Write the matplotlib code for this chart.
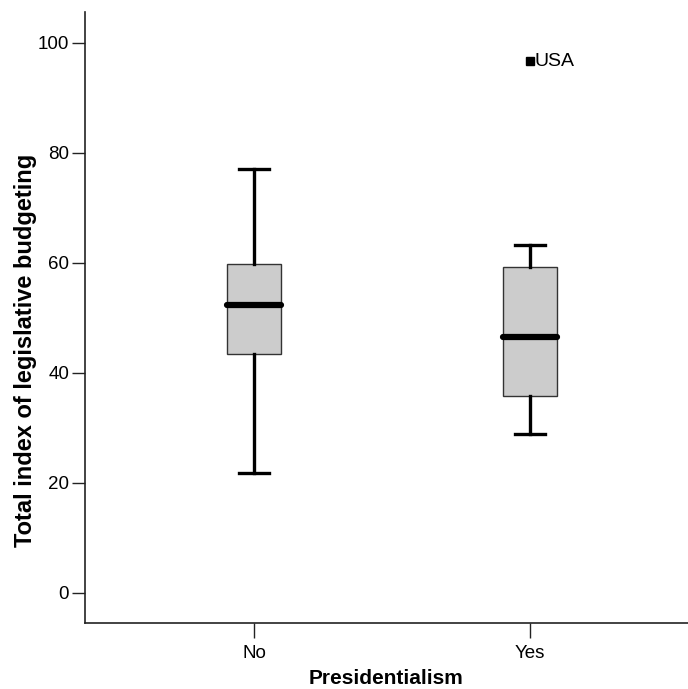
import matplotlib
matplotlib.use("Agg")
import matplotlib.pyplot as plt

plt.rcParams['font.family'] = ['Liberation Sans', 'DejaVu Sans']

categories = ["No", "Yes"]
whisker_low = [21.8, 28.8]
q1 = [43.5, 35.7]
median = [52.4, 46.5]
q3 = [59.8, 59.3]
whisker_high = [77.0, 63.3]
outlier_labels = ["USA"]
outlier_group = [2]
outlier_values = [96.6]
y_ticks = [0, 20, 40, 60, 80, 100]

fig = plt.figure(figsize=(6.88, 6.89), dpi=100)
ax = fig.add_axes([85/688, 66/689, 1 - 85/688, (623-12)/689])

stats = []
for i, c in enumerate(categories):
    stats.append(dict(label=c, whislo=whisker_low[i], q1=q1[i], med=median[i],
                      q3=q3[i], whishi=whisker_high[i], fliers=[]))

positions = list(range(1, len(categories) + 1))
ax.bxp(stats, positions=positions, widths=0.196, patch_artist=True, showfliers=False,
       boxprops=dict(facecolor='#cccccc', edgecolor='#333333', linewidth=1.0),
       medianprops=dict(color='black', linewidth=4.5, solid_capstyle='round'),
       whiskerprops=dict(color='black', linewidth=2.4),
       capprops=dict(color='black', linewidth=2.4),
       capwidths=0.109)

for lab, g, v in zip(outlier_labels, outlier_group, outlier_values):
    ax.plot([g], [v], marker='s', markersize=5.5, color='black', linestyle='none')
    ax.annotate(lab, (g, v), xytext=(3, 0), textcoords='offset points',
                va='center', ha='left', fontsize=14)

ax.set_xlim(0.388, 2.572)
ax.set_ylim(-5.5, 105.6)
ax.set_yticks(y_ticks)
ax.set_xticks(positions)
ax.set_xticklabels(categories)

for s in ['top', 'right']:
    ax.spines[s].set_visible(False)
for s in ['left', 'bottom']:
    ax.spines[s].set_linewidth(1.2)
    ax.spines[s].set_color('#222222')

ax.tick_params(axis='y', length=9.5, width=1.0, labelsize=13.5, pad=2, color='#222222')
ax.tick_params(axis='x', length=11, width=1.0, labelsize=13.5, pad=5, color='#222222')

ax.set_xlabel("Presidentialism", fontsize=15, fontweight='bold', labelpad=5)
ax.set_ylabel("Total index of legislative budgeting", fontsize=17, fontweight='bold')
ax.yaxis.set_label_coords(-0.08, 0.447)

fig.savefig("out.png", dpi=100)
